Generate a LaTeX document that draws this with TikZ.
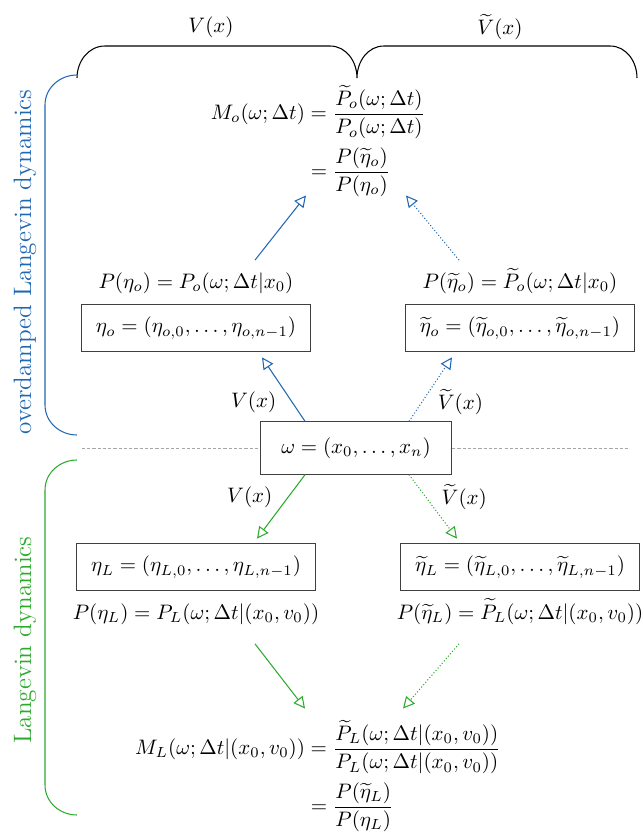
\documentclass[tikz,border=0pt]{standalone}
\usepackage{amsmath}
\usetikzlibrary{arrows.meta,positioning,calc}
\definecolor{odblue}{RGB}{31,103,178}
\definecolor{lgreen}{RGB}{44,170,44}

\begin{document}
\begin{tikzpicture}[x=0.01677cm, y=-0.01677cm, node distance=1.5pt,
                    box/.style = {draw=black!75, line width=0.5pt, inner xsep=7pt, inner ysep=6.2pt},
                    lbl/.style = {inner sep=1pt, text height=10pt, text depth=3pt},
                    flow/.style = {line width=0.5pt, -{Triangle[open,length=5.5pt,width=5.5pt]}},
                    alt/.style = {flow, densely dotted},
                    bracket/.style = {line width=0.5pt},
                    cutline/.style = {gray!70, line width=0.4pt, dash pattern=on 1.5pt off 1pt}]
\useasboundingbox (0,0) rectangle (643,833);
% trajectory and noise boxes
\node[box, inner xsep=10pt, inner ysep=7.5pt] (omega) at (356,448) {$\omega = (x_0,\ldots,x_n)$};
\node[box] (etao)  at (196,328) {$\eta_o = (\eta_{o,0},\ldots,\eta_{o,n-1})$};
\node[box] (etaot) at (520,328) {$\widetilde{\eta}_o = (\widetilde{\eta}_{o,0},\ldots,\widetilde{\eta}_{o,n-1})$};
\node[box] (etaL)  at (196,567) {$\eta_L = (\eta_{L,0},\ldots,\eta_{L,n-1})$};
\node[box] (etaLt) at (520,567) {$\widetilde{\eta}_L = (\widetilde{\eta}_{L,0},\ldots,\widetilde{\eta}_{L,n-1})$};
% path probabilities
\node[lbl, above=3pt of etao]  (plo)  {$P(\eta_o) = P_o(\omega;\Delta t|x_0)$};
\node[lbl, above=3pt of etaot] (plot) {$P(\widetilde{\eta}_o) = \widetilde{P}_o(\omega;\Delta t|x_0)$};
\node[lbl, below=2pt of etaL]  (plL)  {$P(\eta_L) = P_L(\omega;\Delta t|(x_0,v_0))$};
\node[lbl, below=2pt of etaLt] (plLt) {$P(\widetilde{\eta}_L) = \widetilde{P}_L(\omega;\Delta t|(x_0,v_0))$};
% ratios
\node (Mo) at (318,141) {$\begin{aligned} M_o(\omega;\Delta t) &= \dfrac{\widetilde{P}_o(\omega;\Delta t)}{P_o(\omega;\Delta t)}\\
  &= \dfrac{P(\widetilde{\eta}_o)}{P(\eta_o)} \end{aligned}$};
\node (ML) at (318,776) {$\begin{aligned} M_L(\omega;\Delta t|(x_0,v_0)) &= \dfrac{\widetilde{P}_L(\omega;\Delta t|(x_0,v_0))}{P_L(\omega;\Delta t|(x_0,v_0))}\\
  &= \dfrac{P(\widetilde{\eta}_L)}{P(\eta_L)} \end{aligned}$};
% potentials on top
\node (vtop)  at (211,27) {$V(x)$};
\node (vttop) at (500,27) {$\widetilde{V}(x)$};
\draw[bracket] (77,78) to[out=90,in=180] (105,46) -- (330,46) to[out=0,in=90] (357,78)
  to[out=90,in=180] (384,46) -- (610,46) to[out=0,in=90] (637,78);
% side brackets
\node[rotate=90, text=odblue, font=\large] (odlab) at (25,262) {overdamped Langevin dynamics};
\node[rotate=90, text=lgreen, font=\large] (ldlab) at (25,640) {Langevin dynamics};
\draw[bracket, odblue] (77,75) to[out=180,in=90] (45,105) -- (45,405) to[out=-90,in=180] (77,435);
\draw[bracket, lgreen] (77,460) to[out=180,in=90] (45,490) -- (45,785) to[out=-90,in=180] (77,815);
% separator
\coordinate (cutL) at (82,448);
\coordinate (cutR) at (630,448);
\draw[cutline] (cutL) -- (omega.west);
\draw[cutline] (omega.east) -- (cutR);
% overdamped arrows
\draw[flow, odblue] ($(omega.north)+(-51,0)$) -- node[pos=0.3, left=4pt, text=black] {$V(x)$} ($(etao.south)+(66,5)$);
\draw[alt, odblue] ($(omega.north)+(53,0)$) -- node[pos=0.3, right=4pt, text=black] {$\widetilde{V}(x)$} ($(etaot.south)+(-68,5)$);
\draw[flow, odblue] ($(plo.north)+(59,-5)$) -- ($(Mo.south)+(-12,-9)$);
\draw[alt, odblue] ($(plot.north)+(-61,-5)$) -- ($(Mo.south)+(88,-9)$);
% underdamped arrows
\draw[flow, lgreen] ($(omega.south)+(-51,0)$) -- node[pos=0.35, left=4pt, text=black] {$V(x)$} ($(etaL.north)+(61,-4)$);
\draw[alt, lgreen] ($(omega.south)+(53,0)$) -- node[pos=0.35, right=4pt, text=black] {$\widetilde{V}(x)$} ($(etaLt.north)+(-63,-4)$);
\draw[flow, lgreen] ($(plL.south)+(59,16)$) -- ($(ML.north)+(-13,-4)$);
\draw[alt, lgreen] ($(plLt.south)+(-61,16)$) -- ($(ML.north)+(85,-4)$);
\end{tikzpicture}
\end{document}
